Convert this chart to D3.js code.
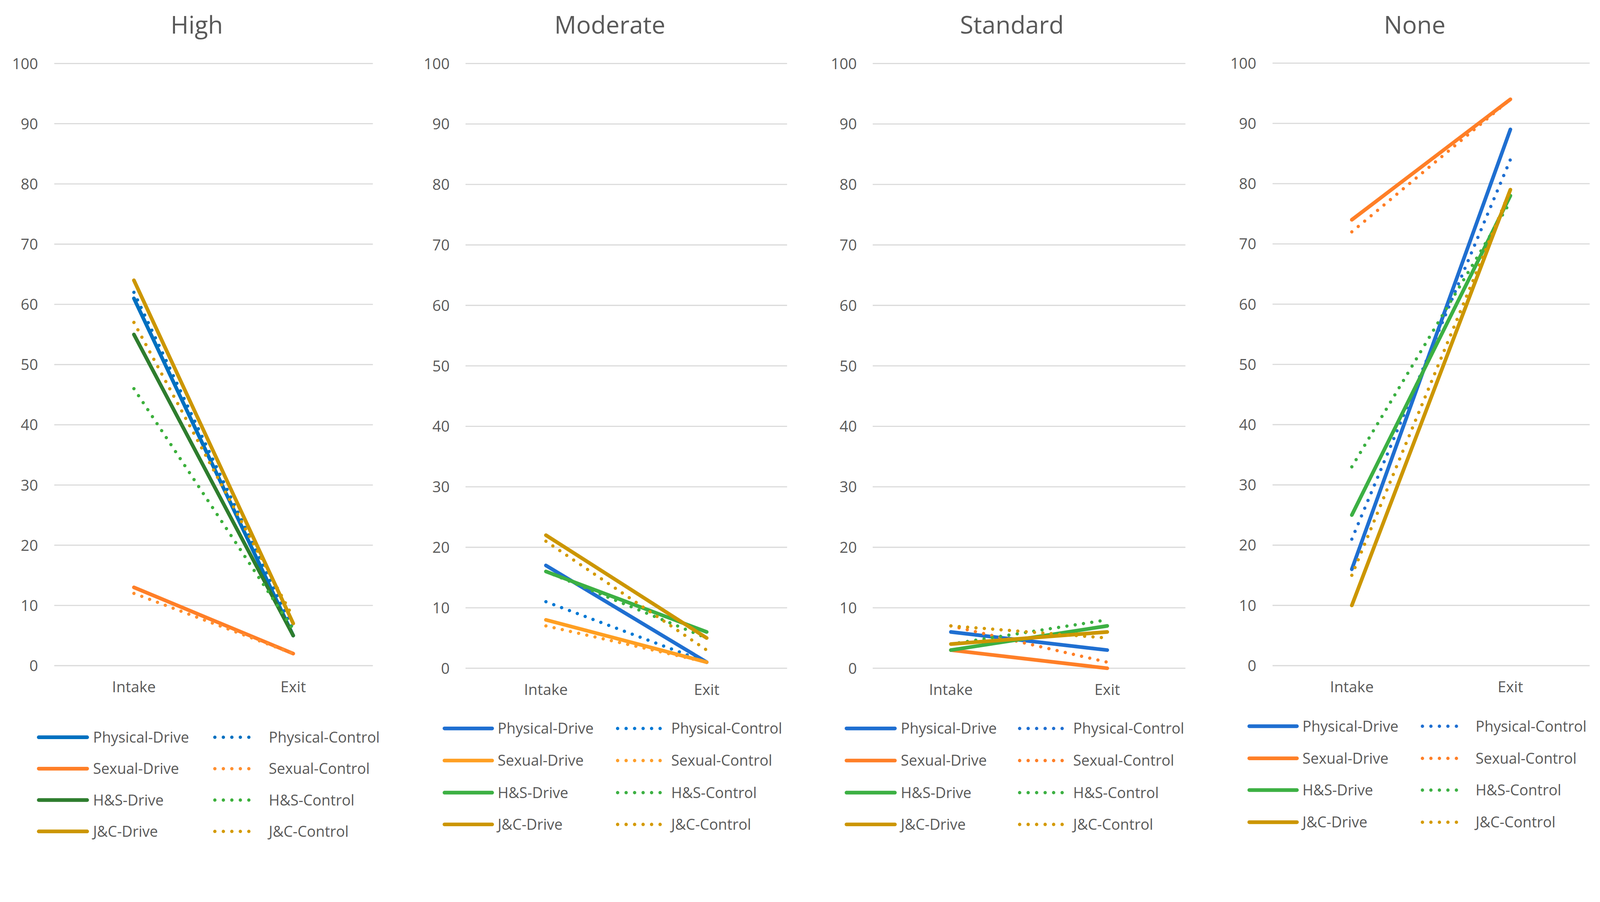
<!DOCTYPE html>
<html>
<head>
<meta charset="utf-8">
<script src="https://cdn.jsdelivr.net/npm/d3@7"></script>
<style>
  html, body { margin: 0; padding: 0; background: #ffffff; overflow: hidden; width: 100%; height: 100%; }
  svg { display: block; width: 100vw; height: 100vh; }
  text { font-family: "Open Sans", "DejaVu Sans", sans-serif; fill: #595959; }
</style>
</head>
<body>
<svg id="chart" viewBox="0 0 4334 2309" preserveAspectRatio="xMidYMin meet"></svg>
<script>
// ---------------- DATA ----------------
const panelTitles = ["High", "Moderate", "Standard", "None"];
const categories = ["Intake", "Exit"];
const seriesNames = [
  "Physical-Drive", "Physical-Control",
  "Sexual-Drive", "Sexual-Control",
  "H&S-Drive", "H&S-Control",
  "J&C-Drive", "J&C-Control"
];
const seriesDotted = [false, true, false, true, false, true, false, true];
const yTicks = [0, 10, 20, 30, 40, 50, 60, 70, 80, 90, 100];

// values per series: [Intake, Exit]
const highValues     = [[61, 5], [62, 6], [13, 2], [12, 2], [55, 5], [46, 6], [64, 7], [57, 8]];
const moderateValues = [[17, 1], [11, 1], [8, 1],  [7, 1],  [16, 6], [16, 5], [22, 5], [21, 3]];
const standardValues = [[6, 3],  [6, 3],  [3, 0],  [7, 1],  [3, 7],  [4, 8],  [4, 6],  [7, 5]];
const noneValues     = [[16, 89],[21, 84],[74, 94],[72, 94],[25, 78],[33, 77],[10, 79],[15, 79]];

const highColors     = ["#0070C0", "#0070C0", "#FF7F27", "#FF8F2F", "#2E7D2E", "#3CB03C", "#CC9600", "#D49A00"];
const moderateColors = ["#1F6FD1", "#0078D4", "#FF9F22", "#FF9F2A", "#3CB043", "#3CB043", "#CC9600", "#D49A00"];
const standardColors = ["#1F6FD1", "#1F6FD1", "#FF7F27", "#FF7F27", "#3CB043", "#3CB043", "#CC9600", "#D49A00"];
const noneColors     = ["#1F6FD1", "#1F6FD1", "#FF7F27", "#FF7F27", "#3CB043", "#3CB043", "#CC9600", "#D49A00"];

const panelValues = [highValues, moderateValues, standardValues, noneValues];
const panelColors = [highColors, moderateColors, standardColors, noneColors];

// ---------------- LAYOUT ----------------
const layouts = [
  { x0: 147,  x1: 1010, y100: 172, y0: 1803, titleX: 533,  labelRight: 103,
    legLine: [100, 241],  legText: 252,  legDot: [577, 702],   legDotText: 728,  legRows: [1997, 2082, 2167, 2252] },
  { x0: 1261, x1: 2132, y100: 172, y0: 1810, titleX: 1652, labelRight: 1218,
    legLine: [1199, 1338], legText: 1348, legDot: [1668, 1795], legDotText: 1818, legRows: [1973, 2060, 2147, 2233] },
  { x0: 2364, x1: 3211, y100: 172, y0: 1810, titleX: 2741, labelRight: 2321,
    legLine: [2288, 2429], legText: 2440, legDot: [2757, 2883], legDotText: 2907, legRows: [1973, 2060, 2147, 2233] },
  { x0: 3447, x1: 4306, y100: 171, y0: 1803, titleX: 3832, labelRight: 3403,
    legLine: [3379, 3518], legText: 3528, legDot: [3848, 3971], legDotText: 3997, legRows: [1967, 2054, 2140, 2227] }
];

const svg = d3.select("#chart");
const SOLID_W = 10;
const DOT_W = 9;
const DOT_DASH = "0.01 22.7";

panelTitles.forEach((title, pi) => {
  const L = layouts[pi];
  const vals = panelValues[pi];
  const cols = panelColors[pi];
  const g = svg.append("g");

  const x = d3.scaleBand().domain(categories).range([L.x0, L.x1]);
  const y = d3.scaleLinear().domain([0, 100]).range([L.y0, L.y100]);
  const cx = c => x(c) + x.bandwidth() / 2;

  // title
  g.append("text")
    .attr("x", L.titleX).attr("y", 91)
    .attr("text-anchor", "middle")
    .style("font-size", "66px")
    .text(title);

  // gridlines
  g.append("g").selectAll("line").data(yTicks).join("line")
    .attr("x1", L.x0).attr("x2", L.x1)
    .attr("y1", d => y(d)).attr("y2", d => y(d))
    .attr("stroke", "#D9D9D9").attr("stroke-width", 3);

  // y tick labels
  g.append("g").selectAll("text").data(yTicks).join("text")
    .attr("x", L.labelRight).attr("y", d => y(d))
    .attr("dy", "0.36em")
    .attr("text-anchor", "end")
    .style("font-size", "41px")
    .text(d => d);

  // category labels
  g.append("g").selectAll("text").data(categories).join("text")
    .attr("x", d => cx(d)).attr("y", L.y0 + 72)
    .attr("text-anchor", "middle")
    .style("font-size", "41px")
    .text(d => d);

  // lines
  const line = d3.line().x((d, i) => cx(categories[i])).y(d => y(d));
  seriesNames.forEach((name, si) => {
    const p = g.append("path")
      .attr("d", line(vals[si]))
      .attr("fill", "none")
      .attr("stroke", cols[si])
      .attr("stroke-linecap", "round")
      .attr("stroke-linejoin", "round");
    if (seriesDotted[si]) {
      p.attr("stroke-width", DOT_W).attr("stroke-dasharray", DOT_DASH);
    } else {
      p.attr("stroke-width", SOLID_W);
    }
  });

  // legend
  seriesNames.forEach((name, si) => {
    const row = Math.floor(si / 2);
    const yy = L.legRows[row];
    const dotted = seriesDotted[si];
    const xs = dotted ? L.legDot : L.legLine;
    const ln = g.append("line")
      .attr("x1", xs[0] + 5).attr("x2", xs[1] - 5)
      .attr("y1", yy).attr("y2", yy)
      .attr("stroke", cols[si])
      .attr("stroke-linecap", "round");
    if (dotted) {
      ln.attr("stroke-width", DOT_W).attr("stroke-dasharray", "0.01 23");
    } else {
      ln.attr("stroke-width", SOLID_W);
    }
    g.append("text")
      .attr("x", dotted ? L.legDotText : L.legText)
      .attr("y", yy).attr("dy", "0.36em")
      .style("font-size", "40px")
      .text(name);
  });
});
</script>
</body>
</html>
